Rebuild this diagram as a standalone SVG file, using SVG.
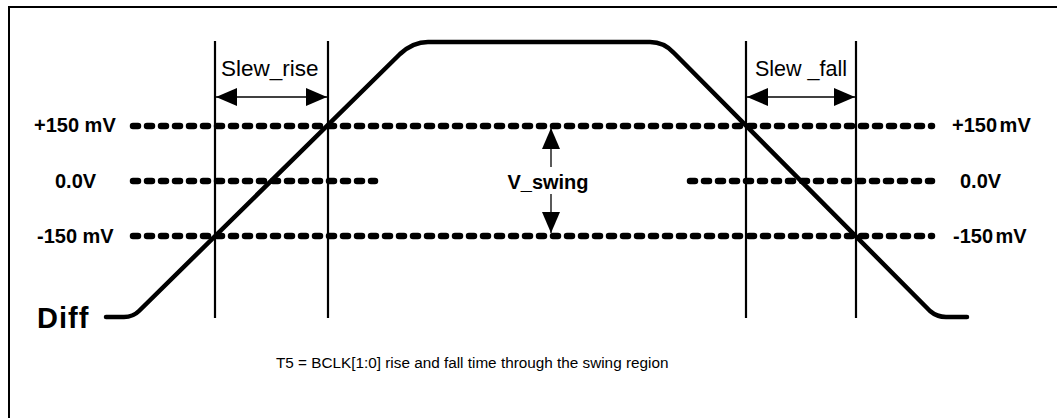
<svg xmlns="http://www.w3.org/2000/svg" width="1057" height="418" viewBox="0 0 1057 418">
<defs>
<style>
.frame{fill:none;stroke:#000;stroke-width:2}
.vline{stroke:#000;stroke-width:2.2;fill:none}
.dots{stroke:#000;stroke-width:6.5;stroke-dasharray:5 9;stroke-linecap:round;fill:none}
.trace{stroke:#000;stroke-width:4.5;fill:none;stroke-linejoin:round;stroke-linecap:round}
.arrow{stroke:#000;stroke-width:1.3;fill:none}
.lbl{font-family:"Liberation Sans",Arial,sans-serif;font-weight:bold;font-size:20px;fill:#000}
.reg{font-family:"Liberation Sans",Arial,sans-serif;font-size:21.5px;fill:#000}
.cap{font-family:"Liberation Sans",Arial,sans-serif;font-size:15.3px;fill:#000}
</style>
<marker id="ah" viewBox="0 0 21 18" refX="21" refY="9" markerWidth="21" markerHeight="18" markerUnits="userSpaceOnUse" orient="auto-start-reverse">
<path d="M0,0 L21,9 L0,18 Z" fill="#000"/>
</marker>
</defs>
<rect class="frame" x="9" y="7" width="1200" height="600"/>

<g id="levels">
<path class="dots" d="M133,126 H932"/>
<path class="dots" d="M133,181 H375"/>
<path class="dots" d="M690,181 H932"/>
<path class="dots" d="M133,236 H932"/>
</g>

<g id="slew-lines">
<line class="vline" x1="215" y1="41" x2="215" y2="318"/>
<line class="vline" x1="328" y1="41" x2="328" y2="318"/>
<line class="vline" x1="746" y1="41" x2="746" y2="318"/>
<line class="vline" x1="856" y1="41" x2="856" y2="318"/>
</g>

<g id="diff-trace">
<path class="trace" d="M106,317 L124,317 Q133,317 139,311 L400,54 Q413,42 428,42 L650,42 Q664,42 674,53 L930,311 Q937,317 946,317 L967,317"/>
</g>

<g id="connectors">
<line class="arrow" x1="216" y1="97" x2="327" y2="97" marker-start="url(#ah)" marker-end="url(#ah)"/>
<line class="arrow" x1="747" y1="97" x2="855" y2="97" marker-start="url(#ah)" marker-end="url(#ah)"/>
<line class="arrow" x1="551" y1="167" x2="551" y2="128" marker-end="url(#ah)"/>
<line class="arrow" x1="551" y1="194" x2="551" y2="233" marker-end="url(#ah)"/>
</g>

<g id="labels">
<text class="lbl" x="34" y="132">+150 mV</text>
<text class="lbl" x="55" y="188">0.0V</text>
<text class="lbl" x="37" y="243">-150 mV</text>
<text class="lbl" x="952" y="132" word-spacing="-3">+150 mV</text>
<text class="lbl" x="960" y="188">0.0V</text>
<text class="lbl" x="953" y="243" word-spacing="-3">-150 mV</text>
<text class="lbl" x="548" y="189" text-anchor="middle">V_swing</text>
<text class="lbl" x="37" y="328" style="font-size:29px" letter-spacing="1">Diff</text>
<text class="reg" x="221" y="76" style="font-size:22.5px">Slew_rise</text>
<text class="reg" x="755" y="76">Slew _fall</text>
<text class="cap" x="276" y="368">T5 = BCLK[1:0] rise and fall time through the swing region</text>
</g>
</svg>
